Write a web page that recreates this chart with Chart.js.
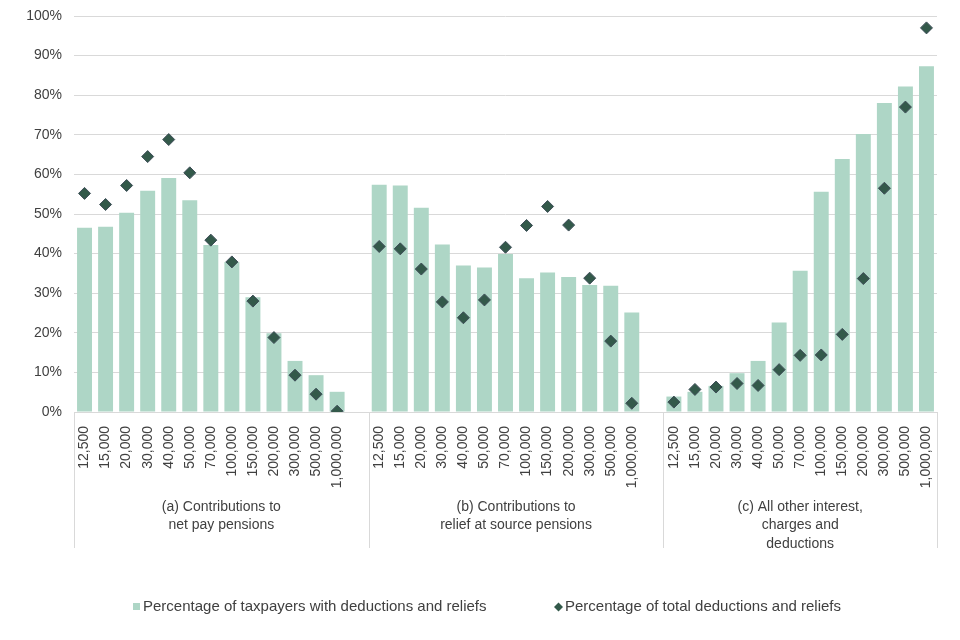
<!DOCTYPE html>
<html>
<head>
<meta charset="utf-8">
<script src="https://cdn.jsdelivr.net/npm/chart.js@4/dist/chart.umd.min.js"></script>
<style>
  html, body { margin: 0; padding: 0; background: #fff; }
  #wrap { width: 960px; height: 640px; position: relative; }
</style>
</head>
<body>
<div id="wrap"><canvas id="chart"></canvas></div>
<script>
// income bands, same for every group
const bands = ['12,500', '15,000', '20,000', '30,000', '40,000', '50,000', '70,000',
    '100,000', '150,000', '200,000', '300,000', '500,000', '1,000,000'];

const groupNames = [
    ['(a) Contributions to', 'net pay pensions'],
    ['(b) Contributions to', 'relief at source pensions'],
    ['(c) All other interest,', 'charges and', 'deductions']
];

// % of taxpayers with deductions and reliefs
const taxpayersA = [46.5, 46.8, 50.3, 55.9, 59.1, 53.5, 42.2, 37.9, 29.0, 19.9, 12.9, 9.3, 5.1];
const taxpayersB = [57.4, 57.2, 51.6, 42.3, 37.0, 36.5, 39.9, 33.8, 35.2, 34.1, 32.1, 31.9, 25.1];
const taxpayersC = [3.9, 5.1, 6.6, 9.8, 12.9, 22.6, 35.7, 55.6, 63.9, 70.2, 78.0, 82.2, 87.3];

// % of total deductions and reliefs
const totalA = [55.2, 52.4, 57.2, 64.5, 68.8, 60.4, 43.4, 37.9, 28.0, 18.8, 9.3, 4.5, 0.2];
const totalB = [41.8, 41.2, 36.1, 27.8, 23.8, 28.3, 41.6, 47.1, 51.9, 47.2, 33.8, 17.9, 2.2];
const totalC = [2.5, 5.7, 6.3, 7.2, 6.7, 10.7, 14.3, 14.4, 19.6, 33.7, 56.5, 77.0, 97.0];

const yTicks = [0, 10, 20, 30, 40, 50, 60, 70, 80, 90, 100];

const barColor = '#aed6c6';
const dotColor = '#33594a';
const gridColor = '#d9d9d9';
const textColor = '#404040';
const font = 'Liberation Sans, Arial, sans-serif';

// a blank slot after group (a) and (b)
const labels = [...bands, '', ...bands, '', ...bands];
const barData = [...taxpayersA, null, ...taxpayersB, null, ...taxpayersC];
const dotData = [...totalA, null, ...totalB, null, ...totalC];
const groupStarts = [0, 14, 28];

const groupAxis = {
    id: 'groupAxis',
    afterDraw(chart) {
        const ctx = chart.ctx;
        const x = chart.scales.x;
        const area = chart.chartArea;
        const edges = [area.left];
        groupStarts.slice(1).forEach(i => {
            edges.push((x.getPixelForValue(i - 1) + x.getPixelForValue(i)) / 2);
        });
        edges.push(area.right);

        ctx.save();
        ctx.strokeStyle = gridColor;
        ctx.lineWidth = 1;
        edges.forEach(px => {
            ctx.beginPath();
            ctx.moveTo(Math.round(px) + 0.5, area.bottom);
            ctx.lineTo(Math.round(px) + 0.5, area.bottom + 136);
            ctx.stroke();
        });

        ctx.fillStyle = textColor;
        ctx.font = '14px ' + font;
        ctx.textAlign = 'center';
        ctx.textBaseline = 'middle';
        groupNames.forEach((lines, g) => {
            const cx = (edges[g] + edges[g + 1]) / 2;
            lines.forEach((t, k) => {
                ctx.fillText(t, cx, area.bottom + 95 + k * 18.5);
            });
        });

        // legend
        const ly = 607;
        ctx.textAlign = 'left';
        ctx.font = '15px ' + font;
        ctx.fillStyle = barColor;
        ctx.fillRect(133, ly - 4, 7, 7);
        ctx.fillStyle = textColor;
        ctx.fillText(chart.data.datasets[0].label, 143, ly);

        ctx.fillStyle = dotColor;
        ctx.beginPath();
        ctx.moveTo(558.5, ly - 4.5);
        ctx.lineTo(563, ly);
        ctx.lineTo(558.5, ly + 4.5);
        ctx.lineTo(554, ly);
        ctx.closePath();
        ctx.fill();
        ctx.fillStyle = textColor;
        ctx.fillText(chart.data.datasets[1].label, 565, ly);
        ctx.restore();
    }
};

new Chart(document.getElementById('chart'), {
    data: {
        labels: labels,
        datasets: [
            {
                type: 'bar',
                label: 'Percentage of taxpayers with deductions and reliefs',
                data: barData,
                backgroundColor: barColor,
                categoryPercentage: 1,
                barPercentage: 0.71,
                order: 2
            },
            {
                type: 'line',
                label: 'Percentage of total deductions and reliefs',
                data: dotData,
                showLine: false,
                pointStyle: 'rectRot',
                pointRadius: 6,
                pointBackgroundColor: dotColor,
                pointBorderColor: '#3e4d58',
                pointBorderWidth: 1,
                order: 1
            }
        ]
    },
    options: {
        responsive: true,
        maintainAspectRatio: false,
        animation: false,
        layout: { padding: { top: 16, right: 23, bottom: 0, left: 0 } },
        plugins: {
            legend: { display: false },
            tooltip: { enabled: false }
        },
        scales: {
            x: {
                grid: { display: false },
                border: { color: gridColor },
                ticks: {
                    autoSkip: false,
                    minRotation: 90,
                    maxRotation: 90,
                    padding: 6,
                    color: textColor,
                    font: { family: font, size: 14 }
                },
                afterFit(scale) { scale.height = 228; }
            },
            y: {
                min: 0,
                max: 100,
                afterBuildTicks(scale) { scale.ticks = yTicks.map(v => ({ value: v })); },
                grid: { color: gridColor, drawTicks: false },
                border: { display: false },
                ticks: {
                    padding: 12,
                    color: textColor,
                    font: { family: font, size: 14 },
                    callback: v => v + '%'
                },
                afterFit(scale) {
                    scale.width = 74;
                    scale.paddingTop = 0;
                    scale.paddingBottom = 0;
                }
            }
        }
    },
    plugins: [groupAxis]
});
</script>
</body>
</html>
